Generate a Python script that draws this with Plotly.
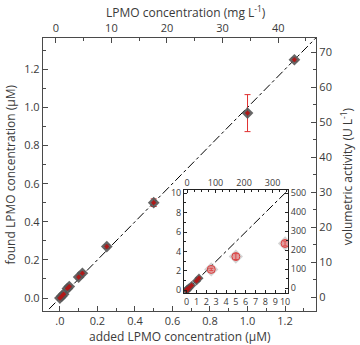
import plotly.graph_objects as go

# ---- data ----
added_uM = [0.0, 0.01, 0.02, 0.04, 0.05, 0.10, 0.12, 0.25, 0.50, 1.00, 1.25]
found_uM = [0.0, 0.01, 0.02, 0.05, 0.06, 0.11, 0.13, 0.27, 0.50, 0.97, 1.25]
found_err = [0.005, 0.005, 0.005, 0.008, 0.008, 0.01, 0.01, 0.01, 0.02, 0.097, 0.01]

high_added_uM = [2.5, 5.0, 10.0]
high_found_uM = [2.15, 3.47, 4.82]
high_err = [0.12, 0.3, 0.25]

identity = [-1, 20]

main_x_ticks = [0.0, 0.2, 0.4, 0.6, 0.8, 1.0, 1.2]
main_x_labels = [".0", "0.2", "0.4", "0.6", "0.8", "1.0", "1.2"]
main_y_ticks = [0.0, 0.2, 0.4, 0.6, 0.8, 1.0, 1.2]
main_y_labels = ["0.0", "0.2", "0.4", "0.6", "0.8", "1.0", "1.2"]
top_ticks = [0, 10, 20, 30, 40]
right_ticks = [0, 10, 20, 30, 40, 50, 60, 70]
inset_x_ticks = list(range(0, 11))
inset_y_ticks = [0, 2, 4, 6, 8, 10]
inset_top_ticks = [0, 100, 200, 300]
inset_right_ticks = [0, 100, 200, 300, 400, 500]

FONT = "Open Sans"
TXT = "#3a3a3a"
AX = "#4a4a4a"

fig = go.Figure()

# main plot
fig.add_trace(go.Scatter(x=identity, y=identity, mode="lines",
                         line=dict(color="black", width=1, dash="dashdot"),
                         xaxis="x", yaxis="y", hoverinfo="skip"))
fig.add_trace(go.Scatter(x=added_uM, y=found_uM, mode="markers",
                         marker=dict(symbol="diamond", size=9, color="rgba(85,85,85,0.9)",
                                     line=dict(width=0)),
                         error_y=dict(type="data", array=found_err, color="#e03030",
                                      thickness=1, width=3),
                         xaxis="x", yaxis="y"))
fig.add_trace(go.Scatter(x=added_uM, y=found_uM, mode="markers",
                         marker=dict(symbol="diamond", size=4, color="#b01818",
                                     line=dict(width=0)),
                         xaxis="x", yaxis="y"))

# inset
fig.add_trace(go.Scatter(x=identity, y=identity, mode="lines",
                         line=dict(color="black", width=1, dash="dashdot"),
                         xaxis="x3", yaxis="y3", hoverinfo="skip"))
fig.add_trace(go.Scatter(x=high_added_uM, y=high_found_uM, mode="markers",
                         marker=dict(symbol="diamond", size=11, color="rgba(170,170,170,0.5)",
                                     line=dict(width=0)),
                         xaxis="x3", yaxis="y3"))
fig.add_trace(go.Scatter(x=high_added_uM, y=high_found_uM, mode="markers",
                         marker=dict(symbol="circle", size=8, color="rgba(235,110,110,0.55)",
                                     line=dict(width=1, color="#d84040")),
                         error_y=dict(type="data", array=high_err, color="#d02020",
                                      thickness=1, width=2),
                         xaxis="x3", yaxis="y3"))
fig.add_trace(go.Scatter(x=added_uM, y=found_uM, mode="markers",
                         marker=dict(symbol="diamond", size=7, color="rgba(85,85,85,0.9)",
                                     line=dict(width=0)),
                         xaxis="x3", yaxis="y3"))
fig.add_trace(go.Scatter(x=added_uM, y=found_uM, mode="markers",
                         marker=dict(symbol="diamond", size=4, color="#b01818",
                                     line=dict(width=0)),
                         xaxis="x3", yaxis="y3"))

tickfont = dict(family=FONT, size=11, color=TXT)
itickfont = dict(family=FONT, size=9, color=TXT)

def main_axis(**kw):
    d = dict(showgrid=False, zeroline=False, showline=True, linecolor=AX, linewidth=1.3,
             ticks="inside", ticklen=5, tickcolor=AX, tickwidth=1, tickfont=tickfont,
             tickmode="array")
    d.update(kw)
    return d

def inset_axis(**kw):
    d = dict(showgrid=False, zeroline=False, showline=True, linecolor="#222", linewidth=1,
             ticks="inside", ticklen=3, tickcolor="#222", tickwidth=1, tickfont=itickfont,
             tickmode="array", ticklabelstandoff=0)
    d.update(kw)
    return d

x0, x1 = 43, 316
y0, y1 = 37.5, 311
W, H = x1 - x0, y1 - y0
def px(x):
    return (x - x0) / W
def py(y):
    return (y1 - y) / H

fig.update_layout(
    width=360, height=345,
    margin=dict(l=x0, r=360 - x1, t=y0, b=345 - y1, pad=0),
    paper_bgcolor="white", plot_bgcolor="white",
    showlegend=False,
    xaxis=main_axis(domain=[0, 1], anchor="y", range=[-0.09, 1.365],
                    tickvals=main_x_ticks, ticktext=main_x_labels,
                    minor=dict(ticks="inside", dtick=0.1, tick0=0, ticklen=3, tickcolor=AX)),
    xaxis2=main_axis(overlaying="x", side="top", anchor="y", range=[-2.3, 46.8],
                     tickvals=top_ticks,
                     minor=dict(ticks="inside", dtick=5, tick0=0, ticklen=3, tickcolor=AX)),
    yaxis=main_axis(domain=[0, 1], anchor="x", range=[-0.068, 1.364],
                    tickvals=main_y_ticks, ticktext=main_y_labels,
                    minor=dict(ticks="inside", dtick=0.1, tick0=0, ticklen=3, tickcolor=AX)),
    yaxis2=main_axis(overlaying="y", side="right", anchor="x", range=[-4, 74.1],
                     tickvals=right_ticks,
                     minor=dict(ticks="inside", dtick=5, tick0=0, ticklen=3, tickcolor=AX)),
    xaxis3=inset_axis(domain=[px(184), px(288)], anchor="y3", range=[-0.27, 10.3],
                      tickvals=inset_x_ticks),
    xaxis4=inset_axis(overlaying="x3", side="top", anchor="y3", range=[-10.5, 354],
                      tickvals=inset_top_ticks,
                      minor=dict(ticks="inside", dtick=25, tick0=0, ticklen=2, tickcolor="#222")),
    yaxis3=inset_axis(domain=[py(292.7), py(190)], anchor="x3", range=[-0.25, 10.3],
                      tickvals=inset_y_ticks,
                      minor=dict(ticks="inside", dtick=1, tick0=0, ticklen=2, tickcolor="#222")),
    yaxis4=inset_axis(overlaying="y3", side="right", anchor="x3", range=[-24.7, 516],
                      tickvals=inset_right_ticks,
                      minor=dict(ticks="inside", dtick=50, tick0=0, ticklen=2, tickcolor="#222")),
)

# invisible traces to activate the secondary axes
fig.add_trace(go.Scatter(x=[0], y=[0], mode="markers", marker=dict(opacity=0),
                         xaxis="x2", yaxis="y2", hoverinfo="skip"))
fig.add_trace(go.Scatter(x=[0], y=[0], mode="markers", marker=dict(opacity=0),
                         xaxis="x4", yaxis="y4", hoverinfo="skip"))

tfont = dict(family=FONT, size=12, color=TXT)
fig.add_annotation(text="found LPMO concentration (\u00b5M)", xref="paper", yref="paper",
                   x=px(10), y=0.5, textangle=-90, showarrow=False, font=tfont,
                   xanchor="center", yanchor="middle")
fig.add_annotation(text="added LPMO concentration (\u00b5M)", xref="paper", yref="paper",
                   x=0.5, y=py(337), showarrow=False, font=tfont,
                   xanchor="center", yanchor="middle")
fig.add_annotation(text="LPMO concentration (mg L<sup>-1</sup>)", xref="paper", yref="paper",
                   x=px(186), y=py(11), showarrow=False, font=tfont,
                   xanchor="center", yanchor="middle")
fig.add_annotation(text="volumetric activity (U L<sup>-1</sup>)", xref="paper", yref="paper",
                   x=px(347), y=py(176), textangle=-90, showarrow=False, font=tfont,
                   xanchor="center", yanchor="middle")

fig.write_html("out.html", config={"displayModeBar": False},
               post_script="document.body.style.margin='0';")
